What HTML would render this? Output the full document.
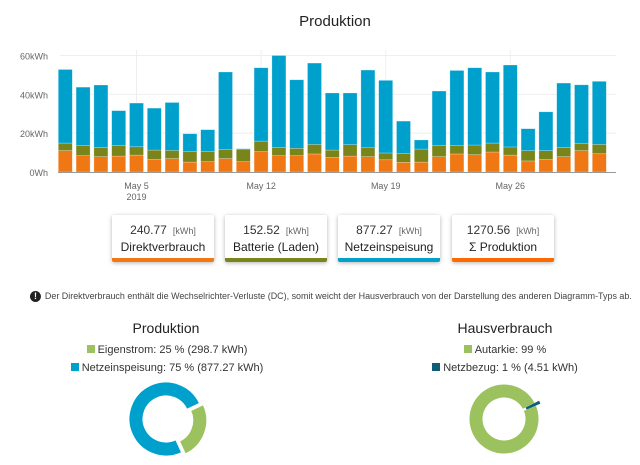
<!DOCTYPE html>
<html><head><meta charset="utf-8">
<style>
body{margin:0;width:640px;height:465px;background:#fff;font-family:"Liberation Sans",sans-serif;color:#333;position:relative;overflow:hidden}
.card{position:absolute;top:215px;width:102px;height:43px;background:#fff;box-shadow:0 1px 4px rgba(0,0,0,.3);border-bottom:4px solid;text-align:center;border-radius:2px}
.card .v{font-size:12px;margin-top:8px;color:#333}
.card .u{font-size:9px;color:#666;margin-left:6px}
.card .l{font-size:12px;margin-top:3px;color:#222}
</style></head><body>
<svg id="chart" width="640" height="205" style="position:absolute;left:0;top:0">
<text x="335" y="26" text-anchor="middle" font-size="15" fill="#222">Produktion</text>
<g id="grid"></g><g id="bars"></g><g id="axis"></g>
</svg>

<div class="card" style="left:112px;border-color:#f07814"><div class="v">240.77<span class="u">[kWh]</span></div><div class="l">Direktverbrauch</div></div>
<div class="card" style="left:225px;border-color:#79841a"><div class="v">152.52<span class="u">[kWh]</span></div><div class="l">Batterie (Laden)</div></div>
<div class="card" style="left:338px;border-color:#00a0cc"><div class="v">877.27<span class="u">[kWh]</span></div><div class="l">Netzeinspeisung</div></div>
<div class="card" style="left:452px;border-color:#ff6a00"><div class="v">1270.56<span class="u">[kWh]</span></div><div class="l">Σ Produktion</div></div>

<div style="position:absolute;left:30px;top:291px;font-size:9px;color:#444;white-space:nowrap;transform:scaleX(0.993);transform-origin:left">
<span style="display:inline-block;width:11px;height:11px;border-radius:50%;background:#222;color:#fff;font-size:9px;font-weight:bold;text-align:center;line-height:11px;vertical-align:middle;margin-right:4px">!</span>Der Direktverbrauch enthält die Wechselrichter-Verluste (DC), somit weicht der Hausverbrauch von der Darstellung des anderen Diagramm-Typs ab.</div>

<div style="position:absolute;left:86px;width:160px;top:320px;text-align:center;font-size:14px;color:#222">Produktion</div>
<div style="position:absolute;left:60px;width:214px;top:344px;text-align:center;font-size:11px;color:#333"><span style="display:inline-block;width:8px;height:8px;background:#9bc25e;margin-right:3px"></span>Eigenstrom: 25 % (298.7 kWh)</div>
<div style="position:absolute;left:60px;width:214px;top:362px;text-align:center;font-size:11px;color:#333"><span style="display:inline-block;width:8px;height:8px;background:#00a0cc;margin-right:3px"></span>Netzeinspeisung: 75 % (877.27 kWh)</div>

<div style="position:absolute;left:425px;width:160px;top:320px;text-align:center;font-size:14px;color:#222">Hausverbrauch</div>
<div style="position:absolute;left:400px;width:210px;top:344px;text-align:center;font-size:11px;color:#333"><span style="display:inline-block;width:8px;height:8px;background:#9bc25e;margin-right:3px"></span>Autarkie: 99 %</div>
<div style="position:absolute;left:400px;width:210px;top:362px;text-align:center;font-size:11px;color:#333"><span style="display:inline-block;width:8px;height:8px;background:#0d5f78;margin-right:3px"></span>Netzbezug: 1 % (4.51 kWh)</div>

<svg id="donuts" width="640" height="465" style="position:absolute;left:0;top:0;pointer-events:none"></svg>

<script>
const days=[];for(let d=1;d<=31;d++)days.push(d);
const orange=[11.0,8.4,7.9,8.2,8.7,6.5,6.9,5.1,5.3,6.9,5.3,10.5,8.4,8.4,9.3,7.5,8.2,7.9,6.3,5.0,5.1,7.9,9.3,8.9,10.3,8.7,5.7,6.5,7.9,11.0,9.4];
const olive=[3.9,5.3,4.8,5.5,4.3,4.8,4.2,5.4,5.2,4.6,6.5,5.4,4.3,3.8,4.9,3.8,5.9,4.6,3.5,4.6,6.7,5.8,4.4,5.0,4.6,4.2,5.3,4.5,4.8,3.8,4.8];
const blue=[37.9,30.0,32.1,17.9,22.5,21.6,24.7,9.2,11.3,40.0,0.2,37.8,47.3,35.3,41.9,29.4,26.6,40.0,37.4,16.6,4.7,28.0,38.6,39.8,36.6,42.2,11.3,20.0,33.1,30.1,32.5];
const yTicks=[0,20,40,60];
const yLabels=["0Wh","20kWh","40kWh","60kWh"];
const xTickIdx=[4,11,18,25];
const xLabels=["May 5","May 12","May 19","May 26"];
const donut1=[25,75];
const donut2=[99,1];

const NS="http://www.w3.org/2000/svg";
function mk(p,t,a){const e=document.createElementNS(NS,t);for(const k in a)e.setAttribute(k,a[k]);p.appendChild(e);return e;}
const y=v=>172-v*(116.5/60);
const x=i=>65.3+i*17.8;
const grid=document.getElementById('grid'),bars=document.getElementById('bars'),axis=document.getElementById('axis');
yTicks.forEach((t,k)=>{
  if(t>0){const g=mk(grid,'line',{x1:60,x2:616,y1:y(t),y2:y(t),stroke:'#eee'});
  
  }
  const tx=mk(axis,'text',{x:48,y:y(t)+4,'text-anchor':'end','font-size':9,fill:'#666'});tx.textContent=yLabels[k];
  
  
});
xTickIdx.forEach((i,k)=>{
  const g=mk(grid,'line',{x1:x(i),x2:x(i),y1:50,y2:172,stroke:'#eee'});
  
  
  const tx=mk(axis,'text',{x:x(i),y:189,'text-anchor':'middle','font-size':9,fill:'#666'});tx.textContent=xLabels[k];
  
  
});
const yr=mk(axis,'text',{x:x(4),y:200,'text-anchor':'middle','font-size':9,fill:'#666'});yr.textContent="2019";


const base=mk(axis,'line',{x1:58,x2:616,y1:172.5,y2:172.5,stroke:'#999'});


days.forEach((d,i)=>{
  let acc=0;
  [[orange[i],'#f07814'],[olive[i],'#79841a'],[blue[i],'#00a0cc']].forEach(([v,c],s)=>{
    const r=mk(bars,'rect',{x:x(i)-7,y:y(acc+v),width:14,height:Math.max(0,y(acc)-y(acc+v)),fill:c,stroke:'#ffffff',
      'stroke-opacity':0.4,'stroke-width':0.6});
    
    
    acc+=v;
  });
});
const dn=document.getElementById('donuts');
function arc(cx,cy,ro,ri,a0,a1){
  const p=(r,a)=>[cx+r*Math.sin(a),cy-r*Math.cos(a)];
  const l=(a1-a0)>Math.PI?1:0;
  const [x1,y1]=p(ro,a0),[x2,y2]=p(ro,a1),[x3,y3]=p(ri,a1),[x4,y4]=p(ri,a0);
  return `M${x1},${y1}A${ro},${ro} 0 ${l} 1 ${x2},${y2}L${x3},${y3}A${ri},${ri} 0 ${l} 0 ${x4},${y4}Z`;
}
function donut(vals,cols,cx,cy,ro,ri,start,explodeIdx,names,strokes){
  const tot=vals.reduce((a,b)=>a+b,0);let a=start;
  vals.forEach((v,i)=>{
    const a1=a+v/tot*2*Math.PI;let ox=0,oy=0;
    if(i===explodeIdx){const m=(a+a1)/2;ox=4*Math.sin(m);oy=-4*Math.cos(m);}
    const p=mk(dn,'path',{d:arc(cx+ox,cy+oy,ro,ri,a,a1),fill:cols[i],stroke:strokes[i],'stroke-width':1});
    
    
    a=a1;
  });
}
donut(donut1,['#9bc25e','#00a0cc'],166,419,37,23,65*Math.PI/180,0,['slice-eigenstrom','slice-netzeinspeisung'],['#fff','#fff']);
donut(donut2,['#9bc25e','#0d5f78'],504,419,35,21,63*Math.PI/180-2*Math.PI*0.99,1,['slice-autarkie','slice-netzbezug'],['#fff','#0d5f78']);
</script>
</body></html>
